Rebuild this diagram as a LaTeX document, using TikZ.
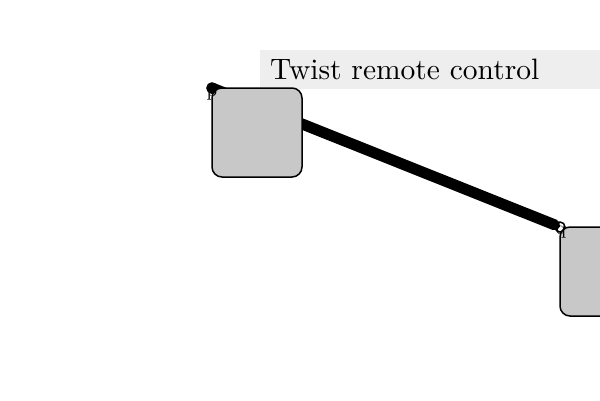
\documentclass[tikz,border=0pt]{standalone}
\usetikzlibrary{shapes}
\definecolor{boxgray}{HTML}{C8C8C8}
\definecolor{titlegray}{HTML}{EEEEEE}
\tikzstyle{block}=[draw,line width=1.5pt,rounded corners=10pt,fill=boxgray,minimum width=90pt,minimum height=89pt]
\tikzstyle{point}=[circle,draw,line width=1.5pt,inner sep=0pt,minimum size=10pt]
\tikzstyle{tag}=[inner sep=0pt]
\tikzstyle{title}=[fill=titlegray,anchor=west,inner xsep=10pt,minimum height=39pt,text width=360pt,align=left]
\tikzstyle{link}=[line width=11pt,line cap=round]

\begin{document}
\begin{tikzpicture}[x=1pt,y=-1pt]
  \useasboundingbox (0,0) rectangle (600,400);
  \clip (0,0) rectangle (600,400);
  \node[title] (name) at (260,69.5) {\scalebox{2.95}{Twist remote control}};
  \node[point] (p) at (212,88) {};
  \node[point] (q) at (560,227) {}
    edge [link] (p.center);
  \node[block] (pbox) at (257,132.5) {};
  \node[block] (qbox) at (605,271.5) {};
  \node[tag] (pl) at (212,94) {\scalebox{1.9}{p}};
  \node[tag] (ql) at (561,232) {\scalebox{1.9}{q}};
\end{tikzpicture}
\end{document}
